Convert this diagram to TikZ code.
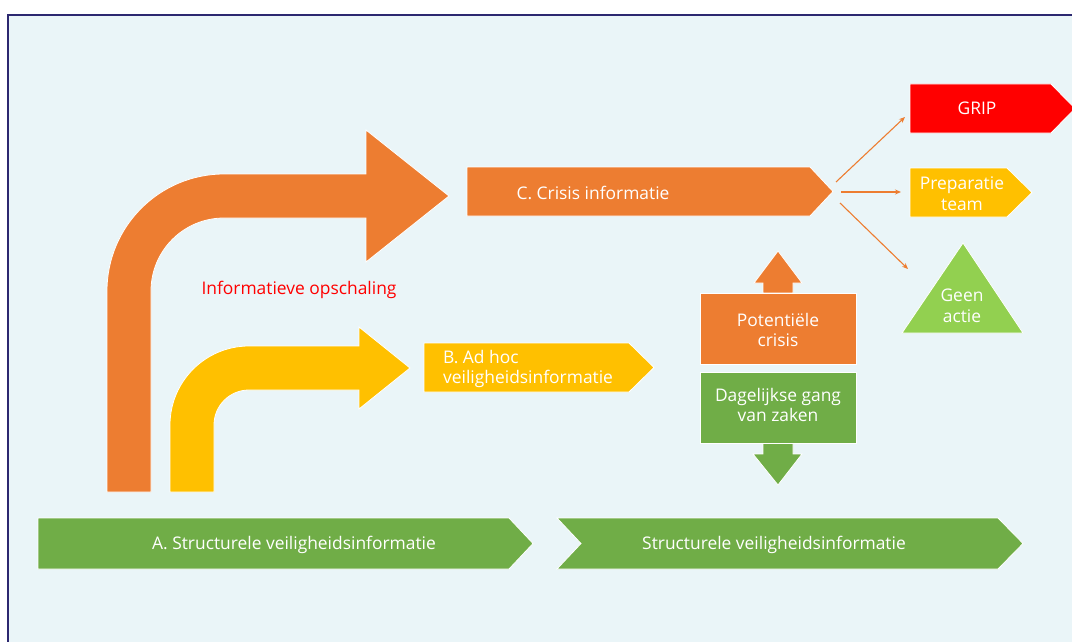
\documentclass[tikz,border=0pt]{standalone}
\usepackage{fontspec}
\setmainfont{Open Sans}
\usetikzlibrary{arrows.meta}
\definecolor{bgc}{RGB}{234,245,248}
\definecolor{navy}{RGB}{44,40,112}
\definecolor{orng}{RGB}{237,125,49}
\definecolor{yel}{RGB}{255,192,0}
\definecolor{grn}{RGB}{112,173,71}
\definecolor{lgrn}{RGB}{146,208,80}
\definecolor{rd}{RGB}{255,0,0}
\tikzset{
  shp/.style={draw=white, line width=0.8pt},
  txt/.style={text=white, font=\fontsize{17.4}{20.8}\selectfont, inner sep=0pt, align=center},
  conn/.style={draw=orng, line width=1.1pt, -{Stealth[length=6pt,width=5pt]}},
}
\begin{document}
\begin{tikzpicture}[x=1pt,y=-1pt]
\useasboundingbox (0,0) rectangle (1072,642);
\fill[white] (0,0) rectangle (1072,642);
\fill[bgc] (8,15) rectangle (1072,642);
\draw[navy, line width=1.6pt] (8,642) -- (8,15) -- (1072,15);
% big orange bent arrow
\fill[orng,shp] (107,492) -- (107,291) arc[start angle=180,end angle=90,radius=117pt]
  -- (366,174) -- (366,130) -- (449,196) -- (366,262) -- (366,218) -- (224,218)
  arc[start angle=90,end angle=180,radius=73pt] -- (151,492) -- cycle;
% yellow bent arrow
\fill[yel,shp] (170,492) -- (170,425) arc[start angle=180,end angle=90,radius=79pt]
  -- (359,346) -- (359,327) -- (410,368) -- (359,409) -- (359,390) -- (249,390)
  arc[start angle=90,end angle=180,radius=35pt] -- (214,492) -- cycle;
\node[text=rd, font=\fontsize{17.4}{20.8}\selectfont, inner sep=0pt] (opsch) at (299,290) {Informatieve opschaling};
% C. crisis informatie
\fill[orng,shp] (467,167) -- (810,167) -- (833,191.5) -- (810,216) -- (467,216) -- cycle;
\node[txt] (C) at (593,193) {C. Crisis informatie};
% B. ad hoc
\fill[yel,shp] (424,343) -- (629,343) -- (654,367.5) -- (629,392) -- (424,392) -- cycle;
\node[txt, align=left, anchor=west] (B) at (443,369) {B. Ad hoc\\veiligheidsinformatie};
% GRIP
\fill[rd,shp] (910,84) -- (1051,84) -- (1075,108.5) -- (1051,133) -- (910,133) -- cycle;
\node[txt] (G) at (977,108) {GRIP};
% Preparatie team
\fill[yel,shp] (910,168) -- (1007,168) -- (1032,192.5) -- (1007,217) -- (910,217) -- cycle;
\node[txt] (P) at (962,194) {Preparatie\\team};
% Geen actie
\fill[lgrn,shp] (963,243) -- (1023,333) -- (902,333) -- cycle;
\node[txt] (GA) at (962,306) {Geen\\actie};
% connectors
\coordinate (s1) at (836,182); \coordinate (e1) at (905,117);
\coordinate (s2) at (841,192); \coordinate (e2) at (901,192);
\coordinate (s3) at (840,203); \coordinate (e3) at (908,269);
\draw[conn] (s1) -- (e1);
\draw[conn] (s2) -- (e2);
\draw[conn] (s3) -- (e3);
% potentiele crisis with up arrow
\fill[orng,shp] (763,293) -- (763,283) -- (754,283) -- (778,251) -- (802,283) -- (793,283) -- (793,293) -- cycle;
\fill[orng,shp] (700,293) rectangle (856,364);
\node[txt] (PC) at (778,330) {Potentiële\\crisis};
% dagelijkse gang with down arrow
\fill[grn,shp] (763,443) -- (763,454) -- (753,454) -- (778,485) -- (802,454) -- (793,454) -- (793,443) -- cycle;
\fill[grn,shp] (700,372) rectangle (856,443);
\node[txt] (DG) at (778,405) {Dagelijkse gang\\van zaken};
% bottom bars
\fill[grn,shp] (38,518) -- (509,518) -- (533,543.5) -- (509,569) -- (38,569) -- cycle;
\node[txt] (A) at (294,545) {A. Structurele veiligheidsinformatie};
\fill[grn,shp] (557,518) -- (998,518) -- (1023,543.5) -- (998,569) -- (557,569) -- (581,543.5) -- cycle;
\node[txt] (S) at (774,545) {Structurele veiligheidsinformatie};
\end{tikzpicture}
\end{document}
